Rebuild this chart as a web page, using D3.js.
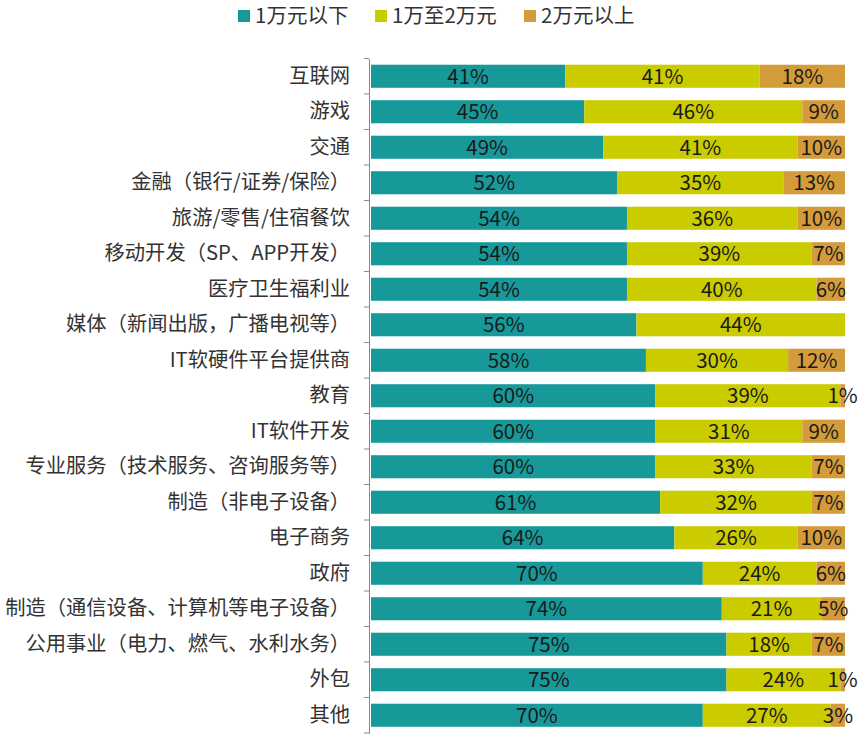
<!DOCTYPE html>
<html><head><meta charset="utf-8">
<script src="https://cdn.jsdelivr.net/npm/d3@7"></script>
<style>body{margin:0;background:#fff;} text{font-family:"Noto Sans CJK SC","Noto Sans",sans-serif;}</style>
</head><body>
<svg id="c" width="867" height="741"></svg>
<script>
const categories = ["互联网","游戏","交通","金融（银行/证券/保险）","旅游/零售/住宿餐饮","移动开发（SP、APP开发）","医疗卫生福利业","媒体（新闻出版，广播电视等）","IT软硬件平台提供商","教育","IT软件开发","专业服务（技术服务、咨询服务等）","制造（非电子设备）","电子商务","政府","制造（通信设备、计算机等电子设备）","公用事业（电力、燃气、水利水务）","外包","其他"];
const seriesNames = ["1万元以下","1万至2万元","2万元以上"];
const low  = [41,45,49,52,54,54,54,56,58,60,60,60,61,64,70,74,75,75,70];
const mid  = [41,46,41,35,36,39,40,44,30,39,31,33,32,26,24,21,18,24,27];
const high = [18,9,10,13,10,7,6,0,12,1,9,7,7,10,6,5,7,1,3];
const colors = ["#17999a","#cbcc00","#d49b3b"];

const svg = d3.select("#c");
const x = d3.scaleLinear().domain([0,100]).range([371,845]);
const y = d3.scaleBand().domain(categories).range([58.5,733]).paddingInner(0.35).paddingOuter(0.175);

const rows = categories.map((c,i)=>({cat:c, vals:[low[i],mid[i],high[i]]}));
rows.forEach(r=>{
  let acc=0;
  r.vals.forEach((v,j)=>{
    if(v<=0) return;
    const x0=x(acc), x1=x(acc+v);
    svg.append("rect").attr("x",x0).attr("y",y(r.cat)).attr("width",x1-x0).attr("height",y.bandwidth()).attr("fill",colors[j]);
    acc+=v;
  });
});
rows.forEach(r=>{
  let acc=0;
  r.vals.forEach((v,j)=>{
    if(v<=0) return;
    svg.append("text").attr("x",(x(acc)+x(acc+v))/2).attr("y",y(r.cat)+y.bandwidth()/2).attr("dy","0.36em")
      .attr("text-anchor","middle").attr("font-size",20.5).attr("fill","#1a1a1a").text(v+"%");
    acc+=v;
  });
});

// axis
const ax = svg.append("g").attr("transform","translate(369,0)").call(d3.axisLeft(y).tickSize(0).tickPadding(19));
ax.select(".domain").attr("stroke","#888");
ax.selectAll("text").attr("font-size",20.3).attr("fill","#333").style("font-family",'"Noto Sans CJK SC",sans-serif');
const bounds = categories.map(c=>y(c)-y.step()*y.paddingInner()/2).concat([y(categories[categories.length-1])+y.bandwidth()+y.step()*y.paddingInner()/2]);
svg.selectAll(".tk").data(bounds).enter().append("line").attr("x1",364).attr("x2",369).attr("y1",d=>d).attr("y2",d=>d).attr("stroke","#888");

// legend
const lx=[238,375,524];
seriesNames.forEach((n,i)=>{
  svg.append("rect").attr("x",lx[i]).attr("y",10).attr("width",12).attr("height",12).attr("fill",colors[i]);
  svg.append("text").attr("x",lx[i]+17).attr("y",16).attr("dy","0.36em").attr("font-size",20.5).attr("fill","#333").text(n);
});
</script>
</body></html>
